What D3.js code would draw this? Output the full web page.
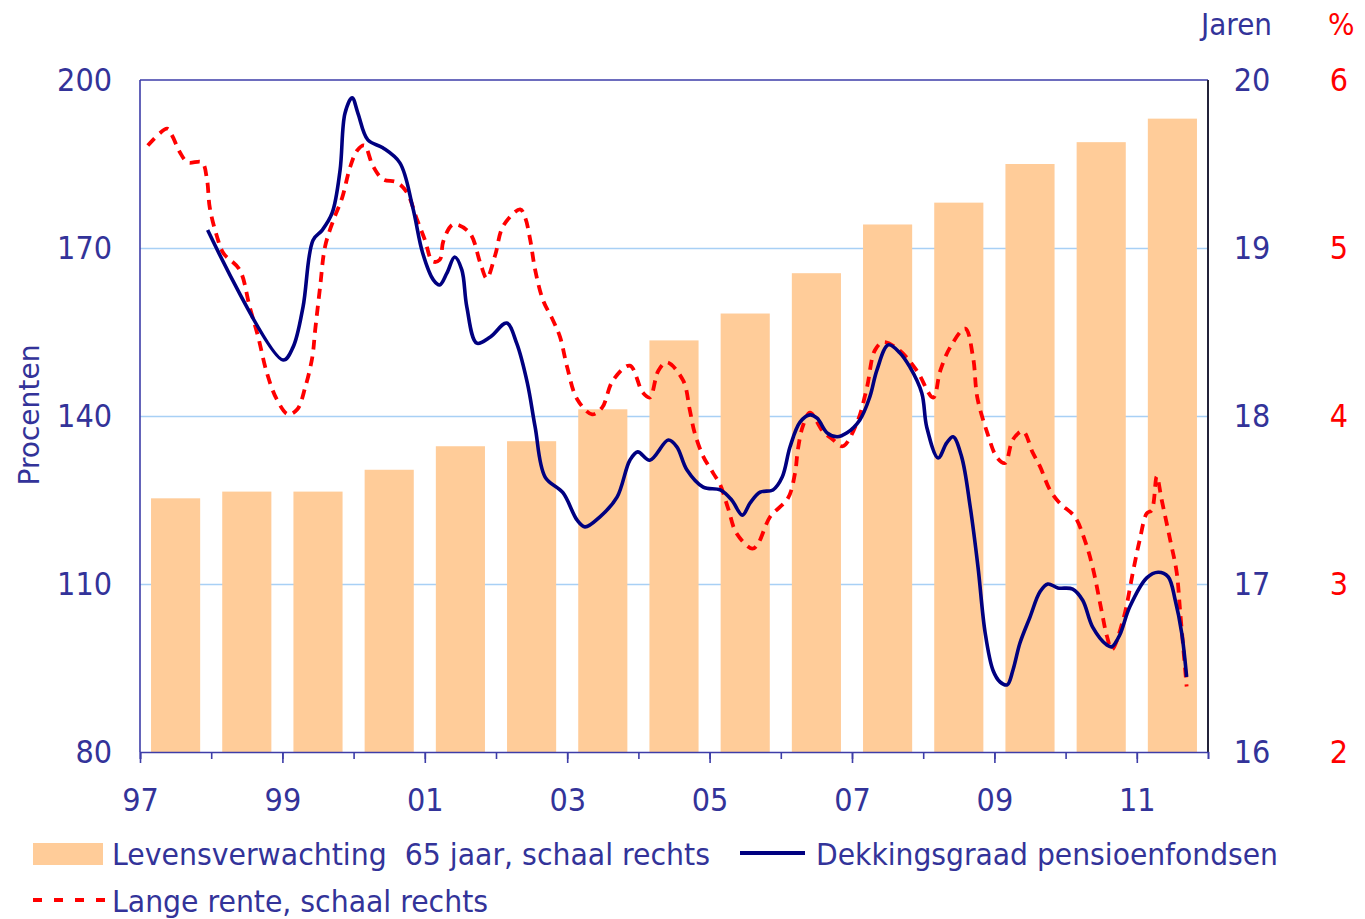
<!DOCTYPE html>
<html>
<head>
<meta charset="utf-8">
<script src="https://cdn.jsdelivr.net/npm/d3@7"></script>
<style>
  body { margin: 0; background: #fff; }
  svg text { font-family: "DejaVu Sans Condensed", "DejaVu Sans", sans-serif; fill: #333399; }
</style>
</head>
<body>
<svg id="chart"></svg>
<script>
// bars: levensverwachting op 65 jaar (schaal rechts, jaren)
let years = [1997, 1998, 1999, 2000, 2001, 2002, 2003, 2004, 2005, 2006, 2007, 2008, 2009, 2010, 2011];
let levensverwachting = [17.51, 17.55, 17.55, 17.68, 17.82, 17.85, 18.04, 18.45, 18.61, 18.85, 19.14, 19.27, 19.50, 19.63, 19.77];

// dekkingsgraad pensioenfondsen (procenten, schaal links)
let dekkingDates = [1997.95, 1999.01, 1999.15, 1999.29, 1999.43, 1999.56, 1999.70, 1999.81, 1999.88, 1999.98,
  2000.06, 2000.20, 2000.41, 2000.65, 2000.83, 2000.97, 2001.12, 2001.21, 2001.31, 2001.42,
  2001.52, 2001.59, 2001.73, 2001.92, 2002.15, 2002.29, 2002.44, 2002.55, 2002.69, 2002.94,
  2003.14, 2003.25, 2003.46, 2003.70, 2003.88, 2003.99, 2004.16, 2004.42, 2004.54, 2004.68,
  2004.91, 2005.15, 2005.31, 2005.46, 2005.57, 2005.71, 2005.89, 2006.02, 2006.13, 2006.27,
  2006.41, 2006.51, 2006.65, 2006.79, 2006.93, 2007.11, 2007.25, 2007.35, 2007.51, 2007.67,
  2007.81, 2007.98, 2008.05, 2008.21, 2008.33, 2008.42, 2008.54, 2008.66, 2008.77, 2008.87,
  2008.98, 2009.08, 2009.18, 2009.26, 2009.36, 2009.50, 2009.64, 2009.75, 2009.89, 2010.10,
  2010.24, 2010.38, 2010.58, 2010.65, 2010.76, 2010.90, 2011.14, 2011.30, 2011.44, 2011.54,
  2011.63, 2011.70];
let dekkingValues = [173.2, 150.0, 152.3, 159.5, 171.4, 173.2, 176.3, 183.9, 194.1, 196.8,
  194.1, 189.3, 187.9, 185.2, 177.3, 169.1, 164.3, 163.4, 165.5, 168.4,
  166.1, 159.5, 153.0, 154.1, 156.6, 153.0, 145.9, 138.0, 129.1, 126.3,
  121.4, 120.2, 122.0, 125.5, 132.1, 133.6, 132.1, 135.7, 134.5, 130.4,
  127.3, 126.8, 125.0, 122.3, 124.5, 126.4, 126.8, 129.1, 134.5, 138.9,
  140.2, 139.6, 137.0, 136.3, 137.0, 139.3, 143.4, 148.2, 152.7, 151.3,
  148.8, 144.1, 138.0, 132.5, 135.2, 136.3, 132.7, 123.8, 113.0, 101.3,
  94.6, 92.5, 92.0, 94.6, 99.5, 104.1, 108.6, 110.0, 109.3, 109.1,
  107.1, 102.3, 99.1, 98.8, 100.9, 105.9, 111.1, 112.1, 111.3, 107.1,
  101.3, 93.4];

// lange rente (procent, schaal rechts)
let renteDates = [1997.11, 1997.38, 1997.45, 1997.56, 1997.67, 1997.87, 1997.94, 1997.98, 1998.08, 1998.17,
  1998.40, 1998.54, 1998.66, 1998.78, 1998.92, 1999.08, 1999.21, 1999.32, 1999.42, 1999.46,
  1999.53, 1999.60, 1999.72, 1999.84, 1999.95, 2000.05, 2000.15, 2000.27, 2000.41, 2000.61,
  2000.75, 2000.89, 2001.00, 2001.11, 2001.21, 2001.26, 2001.40, 2001.63, 2001.78, 2001.87,
  2001.99, 2002.10, 2002.34, 2002.41, 2002.48, 2002.55, 2002.66, 2002.80, 2002.90, 2003.00,
  2003.14, 2003.35, 2003.49, 2003.64, 2003.88, 2004.06, 2004.16, 2004.28, 2004.40, 2004.63,
  2004.72, 2004.79, 2004.91, 2005.05, 2005.15, 2005.26, 2005.38, 2005.60, 2005.68, 2005.85,
  2006.10, 2006.20, 2006.24, 2006.31, 2006.41, 2006.59, 2006.73, 2006.87, 2007.07, 2007.21,
  2007.32, 2007.44, 2007.67, 2007.91, 2008.14, 2008.24, 2008.38, 2008.59, 2008.70, 2008.76,
  2008.90, 2009.04, 2009.15, 2009.26, 2009.40, 2009.54, 2009.64, 2009.78, 2009.92, 2010.13,
  2010.27, 2010.38, 2010.51, 2010.58, 2010.65, 2010.81, 2010.95, 2011.04, 2011.14, 2011.21,
  2011.28, 2011.35, 2011.47, 2011.56, 2011.61, 2011.70];
let renteValues = [5.61, 5.71, 5.67, 5.57, 5.51, 5.51, 5.41, 5.24, 5.07, 4.97,
  4.87, 4.65, 4.47, 4.26, 4.10, 4.01, 4.04, 4.17, 4.35, 4.51,
  4.77, 5.01, 5.17, 5.30, 5.48, 5.58, 5.61, 5.49, 5.41, 5.39,
  5.33, 5.17, 5.05, 4.92, 4.93, 5.04, 5.14, 5.09, 4.91, 4.82,
  4.96, 5.13, 5.23, 5.18, 5.05, 4.87, 4.69, 4.57, 4.47, 4.29,
  4.10, 4.01, 4.05, 4.21, 4.30, 4.14, 4.11, 4.27, 4.32, 4.21,
  4.04, 3.90, 3.76, 3.66, 3.59, 3.45, 3.30, 3.21, 3.24, 3.40,
  3.51, 3.66, 3.80, 3.94, 4.02, 3.91, 3.86, 3.82, 3.96, 4.17,
  4.39, 4.44, 4.39, 4.27, 4.11, 4.27, 4.41, 4.52, 4.35, 4.11,
  3.90, 3.75, 3.72, 3.86, 3.91, 3.78, 3.70, 3.56, 3.48, 3.40,
  3.26, 3.10, 2.83, 2.69, 2.61, 2.79, 3.08, 3.26, 3.42, 3.44,
  3.64, 3.50, 3.26, 3.07, 2.83, 2.39];

let leftTicks = [80, 110, 140, 170, 200];
let jarenTicks = [16, 17, 18, 19, 20];
let renteTicks = [2, 3, 4, 5, 6];
let xLabelYears = [1997, 1999, 2001, 2003, 2005, 2007, 2009, 2011];

const width = 1365;
const height = 919;
const margin = { top: 80, right: 157, bottom: 167, left: 140 };
const plotWidth = width - margin.left - margin.right;
const plotHeight = height - margin.top - margin.bottom;

const red = "#ff0000";

let svg = d3.select("svg#chart").attr("width", width).attr("height", height);

let timeScale = d3.scaleLinear().domain([1997, 2012]).range([0, plotWidth]);
let yearBand = d3.scaleBand().domain(years).range([0, plotWidth])
  .paddingInner(0.31).paddingOuter(0.155);
let pctScale = d3.scaleLinear().domain([80, 200]).range([plotHeight, 0]);
let jarenScale = d3.scaleLinear().domain([16, 20]).range([plotHeight, 0]);
let renteScale = d3.scaleLinear().domain([2, 6]).range([plotHeight, 0]);

let plot = svg.append("g").attr("transform", "translate(" + margin.left + "," + margin.top + ")");

// gridlines
let grid = plot.append("g").attr("class", "grid")
  .call(d3.axisLeft(pctScale).tickValues([110, 140, 170]).tickSize(-plotWidth).tickFormat(""));
grid.select(".domain").remove();
grid.selectAll("line").attr("stroke", "#a8d0f5").attr("stroke-width", 1.6);

// bars
plot.selectAll("rect.bar")
  .data(years.map((y, i) => [y, levensverwachting[i]]))
  .enter().append("rect")
  .attr("class", "bar")
  .attr("x", d => yearBand(d[0]))
  .attr("width", yearBand.bandwidth())
  .attr("y", d => jarenScale(d[1]))
  .attr("height", d => plotHeight - jarenScale(d[1]))
  .attr("fill", "#ffcc99");

// lines
let renteLine = d3.line()
  .x((d, i) => timeScale(renteDates[i]))
  .y(d => renteScale(d))
  .curve(d3.curveCatmullRom);
plot.append("path")
  .datum(renteValues)
  .attr("d", renteLine)
  .attr("fill", "none")
  .attr("stroke", red)
  .attr("stroke-width", 3.8)
  .attr("stroke-dasharray", "10,7");

let dekkingLine = d3.line()
  .x((d, i) => timeScale(dekkingDates[i]))
  .y(d => pctScale(d))
  .curve(d3.curveCatmullRom);
plot.append("path")
  .datum(dekkingValues)
  .attr("d", dekkingLine)
  .attr("fill", "none")
  .attr("stroke", "#000080")
  .attr("stroke-width", 3.6)
  .attr("stroke-linejoin", "round");

// frame lines
plot.append("line").attr("x1", 0).attr("x2", plotWidth).attr("y1", 0).attr("y2", 0)
  .attr("stroke", "#3d3da8").attr("stroke-width", 1.6);
plot.append("line").attr("x1", 0).attr("x2", 0).attr("y1", 0).attr("y2", plotHeight)
  .attr("stroke", "#3d3da8").attr("stroke-width", 1.6);
plot.append("line").attr("x1", plotWidth).attr("x2", plotWidth).attr("y1", 0).attr("y2", plotHeight)
  .attr("stroke", "#23233a").attr("stroke-width", 2);

// x axis: minor ticks every year, longer ticks with labels every two years
let xMinor = plot.append("g").attr("transform", "translate(0," + plotHeight + ")")
  .call(d3.axisBottom(timeScale).tickValues(d3.range(1997, 2013)).tickSize(7).tickFormat(""));
xMinor.select(".domain").attr("stroke", "#3d3da8").attr("stroke-width", 1.6);
xMinor.selectAll("line").attr("stroke", "#3d3da8").attr("stroke-width", 1.6);

let xMajor = plot.append("g").attr("transform", "translate(0," + plotHeight + ")")
  .call(d3.axisBottom(timeScale).tickValues(xLabelYears).tickSize(11).tickPadding(25)
    .tickFormat(d => String(d % 100).padStart(2, "0")));
xMajor.select(".domain").remove();
xMajor.selectAll("line").attr("stroke", "#3d3da8").attr("stroke-width", 1.6);
xMajor.selectAll("text").attr("font-size", 32);

// left axis labels
let yLeft = plot.append("g")
  .call(d3.axisLeft(pctScale).tickValues(leftTicks).tickSize(0).tickPadding(28).tickFormat(d3.format("d")));
yLeft.select(".domain").remove();
yLeft.selectAll("text").attr("font-size", 32);

// right axis labels (jaren)
let yRight = plot.append("g").attr("transform", "translate(" + (plotWidth + 44) + ",0)")
  .call(d3.axisRight(jarenScale).tickValues(jarenTicks).tickSize(0).tickPadding(0).tickFormat(d3.format("d")));
yRight.select(".domain").remove();
yRight.selectAll("text").attr("font-size", 32).attr("text-anchor", "middle");

// far right axis labels (rente)
let yRente = plot.append("g").attr("transform", "translate(" + (plotWidth + 131) + ",0)")
  .call(d3.axisRight(renteScale).tickValues(renteTicks).tickSize(0).tickPadding(0).tickFormat(d3.format("d")));
yRente.select(".domain").remove();
yRente.selectAll("text").attr("font-size", 32).attr("text-anchor", "middle").style("fill", red);

svg.selectAll(".tick text").attr("fill", null);

// axis titles
svg.append("text").attr("x", 1272).attr("y", 35).attr("text-anchor", "end")
  .attr("font-size", 31).text("Jaren");
svg.append("text").attr("x", 1328).attr("y", 35)
  .attr("font-size", 31).style("fill", red).text("%");
svg.append("text")
  .attr("transform", "translate(39,415) rotate(-90)")
  .attr("text-anchor", "middle")
  .attr("font-size", 29)
  .attr("textLength", 141).attr("lengthAdjust", "spacingAndGlyphs")
  .text("Procenten");

// legend
let legend = svg.append("g");
legend.append("rect").attr("x", 33).attr("y", 843).attr("width", 70).attr("height", 22).attr("fill", "#ffcc99");
legend.append("text").attr("x", 112).attr("y", 865).attr("font-size", 30)
  .attr("textLength", 598).attr("lengthAdjust", "spacingAndGlyphs")
  .attr("xml:space", "preserve")
  .text("Levensverwachting  65 jaar, schaal rechts");
legend.append("line").attr("x1", 740).attr("x2", 805).attr("y1", 853).attr("y2", 853)
  .attr("stroke", "#000080").attr("stroke-width", 4);
legend.append("text").attr("x", 816).attr("y", 865).attr("font-size", 30)
  .attr("textLength", 462).attr("lengthAdjust", "spacingAndGlyphs")
  .text("Dekkingsgraad pensioenfondsen");
legend.append("line").attr("x1", 33).attr("x2", 106).attr("y1", 900).attr("y2", 900)
  .attr("stroke", red).attr("stroke-width", 4).attr("stroke-dasharray", "9,12");
legend.append("text").attr("x", 112).attr("y", 912).attr("font-size", 30)
  .attr("textLength", 376).attr("lengthAdjust", "spacingAndGlyphs")
  .text("Lange rente, schaal rechts");
</script>
</body>
</html>
